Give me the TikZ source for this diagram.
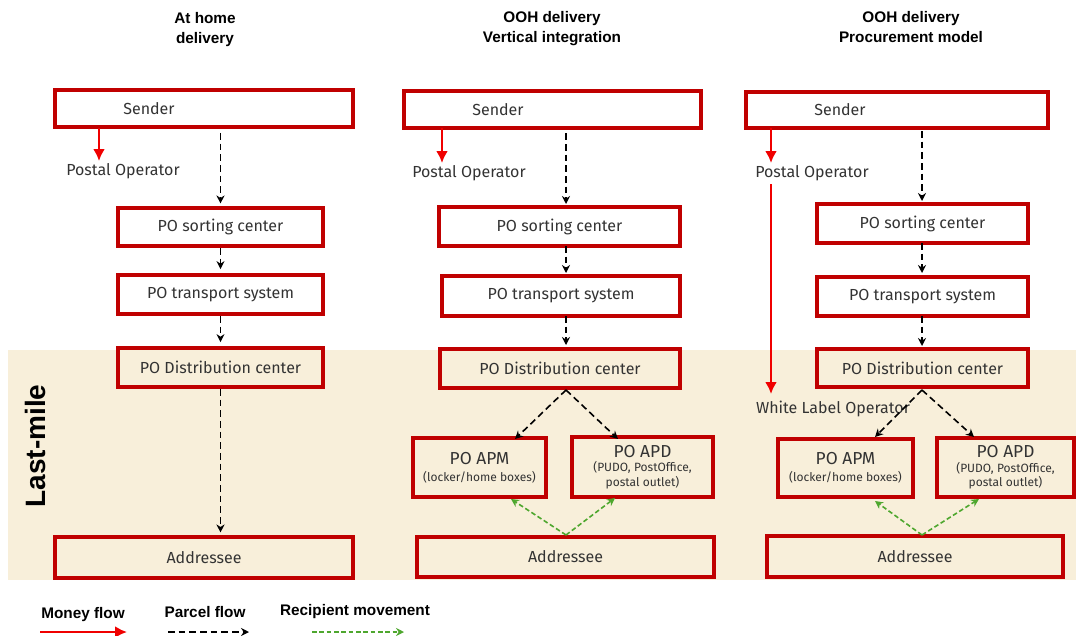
\documentclass[tikz,border=0pt]{standalone}
\usepackage{fontspec}
\setmainfont{Fira Sans}
\newfontfamily\titlefont{Liberation Sans}
\usetikzlibrary{arrows.meta,fit}
\definecolor{boxred}{HTML}{C00000}
\definecolor{band}{HTML}{F8EFDA}
\definecolor{txt}{HTML}{333333}
\definecolor{mred}{HTML}{F00000}
\definecolor{grn}{HTML}{4EA72E}
\begin{document}
\begin{tikzpicture}[x=0.75pt,y=-0.75pt,
 box/.style={draw=boxred, line width=2.8pt, inner sep=0pt},
 lbl/.style={text=txt, font=\fontsize{12}{14}\selectfont, inner sep=0pt},
 ttl/.style={font=\titlefont\bfseries\fontsize{11.5}{15}\selectfont, align=center, inner sep=0pt},
 parcel/.style={draw=black, line width=1.2pt, dash pattern=on 5pt off 3pt, -{Stealth[length=6pt,width=6pt]}},
 money/.style={draw=mred, line width=2.2pt, -{Latex[length=9pt,width=9pt]}},
 recip/.style={draw=grn, line width=1.2pt, dash pattern=on 3.5pt off 2pt, -{Stealth[length=6pt,width=6pt]}}]
\newcommand{\smalltxt}{\fontsize{9}{10.5}\selectfont}
\useasboundingbox (0,0) rectangle (1076,636);
\fill[white] (0,0) rectangle (1076,636);
\fill[band] (8,350) rectangle (1076,580);

% titles
\node[ttl] (t1) at (205,30) {At home\\delivery};
\node[ttl] (t2) at (552,29) {OOH delivery\\Vertical integration};
\node[ttl] (t3) at (911,27) {OOH delivery\\Procurement model};
\node[rotate=90, font=\titlefont\bfseries\fontsize{21}{24}\selectfont, inner sep=0pt] (lm) at (35,446) {Last-mile};

% column 1
\node[box, fit={(55,90) (353,127)}] (s1) {};
\node[lbl] (s1t) at (149,109) {Sender};
\coordinate (m1a) at (99,128);
\node[lbl] (po1) at (123,171) {Postal Operator};
\node[box, fit={(118,208) (323,246)}] (sc1) {};
\node[lbl] at (sc1) {PO sorting center};
\node[box, fit={(118,275) (323,314)}] (tr1) {};
\node[lbl] at (tr1) {PO transport system};
\node[box, fit={(118,348) (323,387)}] (dc1) {};
\node[lbl] at (dc1) {PO Distribution center};
\node[box, fit={(55,537) (353,578)}] (ad1) {};
\node[lbl] at (ad1) {Addressee};
\draw[money] (m1a) -- (99,161);
\draw[parcel] (s1.south -| sc1.north) ++(0,4) -- ([yshift=2pt]sc1.north);
\draw[parcel] (sc1.south) -- ([yshift=3pt]tr1.north);
\draw[parcel] (tr1.south) -- ([yshift=3pt]dc1.north);
\draw[parcel] (dc1.south) -- ([yshift=2pt]ad1.north -| dc1.south);

% column 2
\node[box, fit={(404,91) (701,128)}] (s2) {};
\node[lbl] (s2t) at (498,110) {Sender};
\node[lbl] (po2) at (469,173) {Postal Operator};
\node[box, fit={(439,207) (680,246)}] (sc2) {};
\node[lbl] at (sc2) {PO sorting center};
\node[box, fit={(442,276) (680,316)}] (tr2) {};
\node[lbl] at (tr2) {PO transport system};
\node[box, fit={(440,349) (680,388)}] (dc2) {};
\node[lbl] at (dc2) {PO Distribution center};
\node[box, fit={(413,438) (546,497)}] (apm2) {};
\node[lbl, align=center] at (apm2) {{\fontsize{13}{15}\selectfont PO APM}\\[-1pt]{\smalltxt(locker/home boxes)}};
\node[box, fit={(572,437) (713,497)}] (apd2) {};
\node[lbl, align=center] at (apd2) {{\fontsize{13}{15}\selectfont PO APD}\\[-3pt]{\smalltxt(PUDO, PostOffice,}\\[-3pt]{\smalltxt postal outlet)}};
\node[box, fit={(417,537) (714,577)}] (ad2) {};
\node[lbl] at (ad2) {Addressee};
\coordinate (x2) at (566,128);
\draw[money] (442,128) -- (442,163);
\draw[parcel] ([yshift=-4pt]x2) -- (566,204);
\draw[parcel] (566,246) -- (566,273);
\draw[parcel] (566,316) -- (566,345);
\coordinate (d2) at (566,390);
\draw[parcel] (d2) -- (515,439);
\draw[parcel] (d2) -- (618,439);
\coordinate (a2) at (566,535);
\draw[recip] (a2) -- (511,499);
\draw[recip] (a2) -- (615,498);

% column 3
\node[box, fit={(746,92) (1048,128)}] (s3) {};
\node[lbl] (s3t) at (840,110) {Sender};
\node[lbl] (po3) at (812,173) {Postal Operator};
\node[lbl] (wl3) at (833,409) {White Label Operator};
\node[box, fit={(817,204) (1028,243)}] (sc3) {};
\node[lbl] at (sc3) {PO sorting center};
\node[box, fit={(817,277) (1028,316)}] (tr3) {};
\node[lbl] at (tr3) {PO transport system};
\node[box, fit={(817,349) (1028,387)}] (dc3) {};
\node[lbl] at (dc3) {PO Distribution center};
\node[box, fit={(778,439) (913,497)}] (apm3) {};
\node[lbl, align=center] at (apm3) {{\fontsize{13}{15}\selectfont PO APM}\\[-1pt]{\smalltxt(locker/home boxes)}};
\node[box, fit={(937,438) (1074,497)}] (apd3) {};
\node[lbl, align=center] at (apd3) {{\fontsize{13}{15}\selectfont PO APD}\\[-3pt]{\smalltxt(PUDO, PostOffice,}\\[-3pt]{\smalltxt postal outlet)}};
\node[box, fit={(767,536) (1063,577)}] (ad3) {};
\node[lbl] at (ad3) {Addressee};
\draw[money] (771,128) -- (771,163);
\draw[money] (771,184) -- (771,394);
\draw[parcel] (922,131) -- (922,201);
\draw[parcel] (922,243) -- (922,273);
\draw[parcel] (922,316) -- (922,346);
\coordinate (d3) at (922,390);
\draw[parcel] (d3) -- (875,437);
\draw[parcel] (d3) -- (974,437);
\coordinate (a3) at (922,535);
\draw[recip] (a3) -- (875,501);
\draw[recip] (a3) -- (979,499);

% legend
\node[ttl] (lg1) at (83,615) {Money flow};
\node[ttl] (lg2) at (205,612) {Parcel flow};
\node[ttl] (lg3) at (355,612) {Recipient movement};
\coordinate (lm1) at (40,632);
\coordinate (lp1) at (168,632);
\coordinate (lr1) at (312,632);
\draw[money] (lm1) -- (127,632);
\draw[parcel] (lp1) -- (249,632);
\draw[recip] (lr1) -- (404,632);
\end{tikzpicture}
\end{document}
